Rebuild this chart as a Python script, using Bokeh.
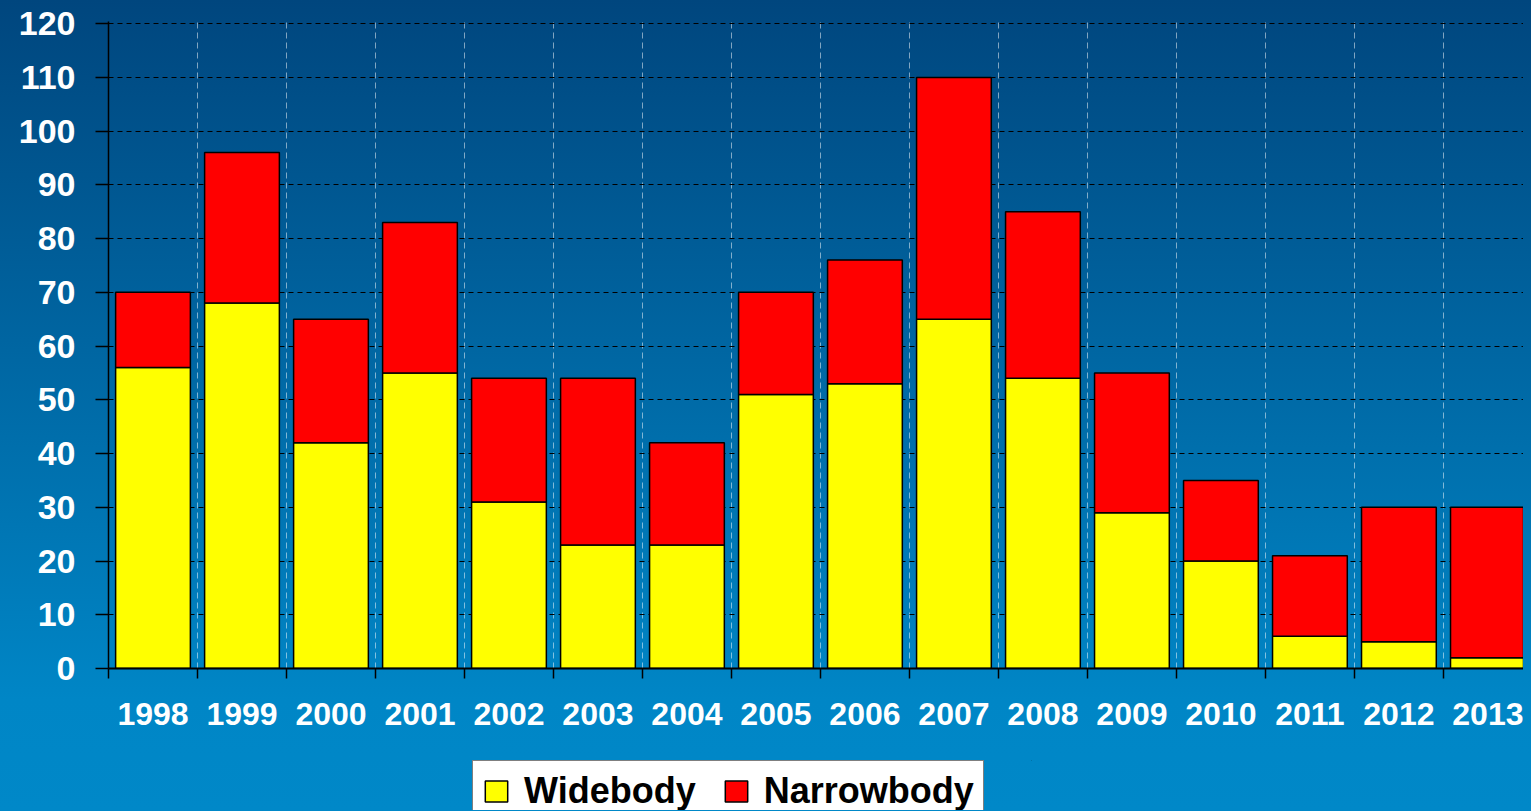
from bokeh.plotting import figure
from bokeh.models import (FixedTicker, Legend, LegendItem, Range1d, Spacer,
                          GlobalInlineStyleSheet, ColumnDataSource)
from bokeh.layouts import column, row
from bokeh.embed import file_html
from bokeh.resources import INLINE

years = ["1998", "1999", "2000", "2001", "2002", "2003", "2004", "2005",
         "2006", "2007", "2008", "2009", "2010", "2011", "2012", "2013"]
widebody = [56, 68, 42, 55, 31, 23, 23, 51, 53, 65, 54, 29, 20, 6, 5, 2]
narrowbody = [14, 28, 23, 28, 23, 31, 19, 19, 23, 45, 31, 26, 15, 15, 25, 28]
y_ticks = list(range(0, 121, 10))
series_colors = ["#FFFF00", "#FF0000"]
series_names = ["Widebody", "Narrowbody"]

n = len(years)
centers = [i + 0.5 for i in range(n)]
source = ColumnDataSource(dict(x=centers, Widebody=widebody, Narrowbody=narrowbody))

css = GlobalInlineStyleSheet(css="""
html { min-height: 100%; background: linear-gradient(to bottom, #00467e 0px, #0086c6 700px, #0088c8 811px) no-repeat fixed #0088c8; }
body { background: transparent; overflow: hidden; }
""")

p = figure(frame_width=1415, frame_height=647, output_backend="svg", toolbar_location=None,
           x_range=Range1d(0, 15.9), y_range=Range1d(0, 120.4),
           min_border_left=108, min_border_right=0, min_border_top=21,
           min_border_bottom=92,
           border_fill_color=None, background_fill_color=None,
           outline_line_color=None, stylesheets=[css])

rs = p.vbar_stack(series_names, x="x", width=0.84, source=source,
                  color=series_colors, line_color="black", line_width=1.5)

# axes
p.yaxis.ticker = FixedTicker(ticks=y_ticks)
p.yaxis.major_label_text_font = "Liberation Sans"
p.yaxis.major_label_text_font_style = "bold"
p.yaxis.major_label_text_font_size = "34px"
p.yaxis.major_label_text_color = "white"
p.yaxis.major_tick_out = 13
p.yaxis.major_tick_in = 0
p.yaxis.minor_tick_line_color = None
p.yaxis.axis_line_color = "black"
p.yaxis.axis_line_width = 1.5
p.yaxis.major_tick_line_width = 1.5
p.yaxis.major_label_standoff = 20

boundaries = list(range(0, n + 1))
p.xaxis.ticker = FixedTicker(ticks=centers, minor_ticks=boundaries)
p.xaxis.major_label_overrides = {c: y for c, y in zip(centers, years)}
p.xaxis.major_label_text_font = "Liberation Sans"
p.xaxis.major_label_text_font_style = "bold"
p.xaxis.major_label_text_font_size = "32px"
p.xaxis.major_label_text_color = "white"
p.xaxis.major_tick_out = 0
p.xaxis.major_tick_in = 0
p.xaxis.minor_tick_out = 10
p.xaxis.minor_tick_in = 0
p.xaxis.minor_tick_line_width = 1.5
p.xaxis.minor_tick_line_color = "black"
p.xaxis.axis_line_color = "black"
p.xaxis.axis_line_width = 2
p.xaxis.major_label_standoff = 24

# grids
p.ygrid.ticker = FixedTicker(ticks=y_ticks)
p.ygrid.grid_line_color = "black"
p.ygrid.grid_line_dash = "5 4"
p.ygrid.grid_line_width = 1
p.xgrid.ticker = FixedTicker(ticks=boundaries[1:-1])
p.xgrid.grid_line_color = "white"
p.xgrid.grid_line_alpha = 0.5
p.xgrid.grid_line_dash = "6 4"
p.xgrid.grid_line_width = 1

# legend in its own small figure below the chart
lf = figure(width=560, height=50, output_backend="svg", toolbar_location=None,
            x_axis_type=None, y_axis_type=None, min_border=0,
            x_range=Range1d(0, 1), y_range=Range1d(0, 1),
            border_fill_color=None, background_fill_color=None,
            outline_line_color=None)
lf.xgrid.visible = False
lf.ygrid.visible = False
# swatch renderers kept outside the visible range; only the legend shows them
dummies = [lf.vbar(x=[10], top=[11], bottom=[10], width=1, fill_color=c,
                   line_color="black", line_width=1.5) for c in series_colors]

legend = Legend(items=[LegendItem(label=nm, renderers=[d])
                       for nm, d in zip(series_names, dummies)],
                orientation="horizontal", location="top_left")
legend.label_text_font = "Liberation Sans"
legend.label_text_font_style = "bold"
legend.label_text_font_size = "36px"
legend.label_text_color = "black"
legend.background_fill_color = "white"
legend.background_fill_alpha = 1
legend.border_line_color = "black"
legend.border_line_width = 1.5
legend.glyph_width = 28
legend.glyph_height = 26
legend.label_standoff = 14
legend.spacing = 26
legend.padding = 9
legend.margin = 0
lf.add_layout(legend)

layout = column(p, row(Spacer(width=472), lf))

open("out.html", "w").write(file_html(layout, INLINE))
